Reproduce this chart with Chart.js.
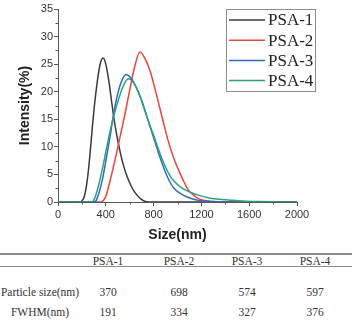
<!DOCTYPE html>
<html>
<head>
<meta charset="utf-8">
<script src="https://cdn.jsdelivr.net/npm/chart.js@4.4.1/dist/chart.umd.min.js"></script>
<style>
  body { margin: 0; background: #fff; }
  #wrap { position: relative; width: 352px; height: 335px; overflow: hidden; }
  #chart { position: absolute; left: 0; top: 0; }
  .rule { position: absolute; left: 0; width: 352px; background: #8a8a8a; }
  .cell { position: absolute; font-family: "Liberation Serif", serif; font-size: 11.5px; color: #333;
          transform: translate(-50%, -50%); white-space: nowrap; }
</style>
</head>
<body>
<div id="wrap">
  <canvas id="chart" width="352" height="245" style="width:352px;height:245px"></canvas>
  <div class="rule" style="top:253px;height:2px"></div>
  <div class="rule" style="top:266px;height:1px"></div>
  <div id="table"></div>
</div>
<script>
// size (nm) / intensity (%)
const psa1Size = [0, 190, 200, 220, 240, 255, 270, 290, 310, 335, 355, 378, 400, 425, 450, 475, 500, 525, 550, 575, 610, 645, 690, 730, 800, 2000];
const psa1Int  = [0, 0, 0.2, 1, 3.2, 5.8, 9.2, 14.2, 18.5, 22.8, 25.2, 26.1, 25, 22, 18, 14.2, 11.2, 8.6, 6.5, 4.8, 3, 1.7, 0.6, 0.1, 0, 0];

const psa2Size = [0, 360, 380, 400, 435, 477, 505, 535, 561, 600, 640, 686, 728, 770, 826, 880, 923, 980, 1021, 1060, 1090, 1160, 1216, 1300, 1400, 2000];
const psa2Int  = [0, 0, 0.3, 1, 3.8, 7.6, 10.4, 13.4, 16, 20.3, 24.4, 27.2, 26, 23.8, 19.3, 14.6, 11, 7.3, 5.2, 3.4, 2.2, 0.8, 0.3, 0.08, 0, 0];

const psa3Size = [0, 300, 320, 345, 371, 395, 421, 444, 460, 491, 530, 569, 610, 650, 690, 730, 770, 810, 850, 890, 930, 970, 1020, 1080, 1150, 1250, 1400, 2000];
const psa3Int  = [0, 0, 0.3, 1.8, 4, 6.8, 10, 13, 15.3, 18.8, 21.8, 23.1, 22.5, 21, 18.9, 16.4, 13.7, 11, 8.3, 5.9, 3.9, 2.5, 1.6, 0.9, 0.4, 0.12, 0, 0];

const psa4Size = [0, 280, 296, 320, 351, 380, 407, 435, 463, 505, 545, 588, 630, 672, 715, 760, 800, 840, 880, 923, 970, 1021, 1060, 1105, 1180, 1272, 1370, 1467, 1580, 1690, 1800, 2000];
const psa4Int  = [0, 0, 0.2, 1.5, 4, 6.9, 9.8, 12.7, 15.3, 18.5, 21, 22.35, 21.7, 20, 17.5, 14.4, 12.1, 9.6, 7.3, 5.3, 3.8, 2.8, 2.25, 1.8, 1.2, 0.7, 0.45, 0.3, 0.15, 0.07, 0.03, 0];

const names = ['PSA-1', 'PSA-2', 'PSA-3', 'PSA-4'];
const colors = ['#3a3a3a', '#e8453c', '#2f6cc0', '#2ea079'];

// table below the plot
const tableHead = ['PSA-1', 'PSA-2', 'PSA-3', 'PSA-4'];
const rowLabels = ['Particle size(nm)', 'FWHM(nm)'];
const particleSize = [370, 698, 574, 597];
const fwhm = [191, 334, 327, 376];

const colX = [40, 108, 179, 247, 315];
const rowY = [261, 292, 312];

let tbl = document.getElementById('table');
let put = (txt, x, y) => {
  let d = document.createElement('div');
  d.className = 'cell';
  d.style.left = x + 'px';
  d.style.top = y + 'px';
  d.textContent = txt;
  tbl.appendChild(d);
};
tableHead.forEach((h, i) => put(h, colX[i + 1], rowY[0]));
put(rowLabels[0], colX[0], rowY[1]);
put(rowLabels[1], colX[0], rowY[2]);
particleSize.forEach((v, i) => put(v, colX[i + 1], rowY[1]));
fwhm.forEach((v, i) => put(v, colX[i + 1], rowY[2]));

const pts = (xs, ys) => xs.map((x, i) => ({ x: x, y: ys[i] }));

// minor ticks between labelled ones
const minorTicks = {
  id: 'minorTicks',
  afterDraw(chart) {
    const { ctx, scales: { x, y } } = chart;
    ctx.save();
    ctx.strokeStyle = '#555';
    ctx.lineWidth = 1;
    ctx.beginPath();
    for (let v = 200; v < 2000; v += 400) {
      const px = Math.round(x.getPixelForValue(v)) + 0.5;
      ctx.moveTo(px, y.bottom);
      ctx.lineTo(px, y.bottom + 2.5);
    }
    for (let v = 2.5; v < 35; v += 5) {
      const py = Math.round(y.getPixelForValue(v)) + 0.5;
      ctx.moveTo(x.left, py);
      ctx.lineTo(x.left - 2.5, py);
    }
    ctx.stroke();
    ctx.restore();
  }
};

// framed legend in the upper right
const boxLegend = {
  id: 'boxLegend',
  afterDraw(chart) {
    const ctx = chart.ctx;
    ctx.save();
    ctx.strokeStyle = '#8c8c8c';
    ctx.lineWidth = 1;
    ctx.strokeRect(226.5, 9.5, 89, 82);
    ctx.font = '17px "Liberation Serif"';
    ctx.textBaseline = 'middle';
    chart.data.datasets.forEach((ds, i) => {
      const yy = 20 + i * 20.2;
      ctx.strokeStyle = ds.borderColor;
      ctx.lineWidth = 1.5;
      ctx.beginPath();
      ctx.moveTo(229, yy);
      ctx.lineTo(265, yy);
      ctx.stroke();
      ctx.fillStyle = '#222';
      ctx.fillText(ds.label, 268, yy + 1);
    });
    ctx.restore();
  }
};

const series = [pts(psa1Size, psa1Int), pts(psa2Size, psa2Int), pts(psa3Size, psa3Int), pts(psa4Size, psa4Int)];

new Chart(document.getElementById('chart'), {
  type: 'line',
  data: {
    datasets: series.map((d, i) => ({
      label: names[i],
      data: d,
      borderColor: colors[i],
      borderWidth: 1.5,
      pointRadius: 0,
      fill: false,
      cubicInterpolationMode: 'monotone',
      order: 4 - i,
    })),
  },
  options: {
    responsive: false,
    animation: false,
    layout: { padding: { top: 9, right: 55, bottom: 0, left: 0 } },
    plugins: { legend: { display: false }, tooltip: { enabled: false } },
    scales: {
      x: {
        type: 'linear',
        min: 0,
        max: 2000,
        afterFit: (s) => { s.height = 43; },
        grid: { drawOnChartArea: false, tickLength: 4, color: '#555' },
        border: { color: '#555', width: 1 },
        ticks: { stepSize: 400, padding: 2, color: '#333', callback: (v) => String(v),
                 font: { family: 'Liberation Sans', size: 11 } },
        title: { display: true, text: 'Size(nm)', color: '#222', padding: { top: 0, bottom: 1 },
                 font: { family: 'Liberation Sans', size: 14, weight: 'bold' } },
      },
      y: {
        min: 0,
        max: 35,
        afterFit: (s) => { s.width = 58; },
        grid: { drawOnChartArea: false, tickLength: 4, color: '#555' },
        border: { color: '#555', width: 1 },
        ticks: { stepSize: 5, padding: 1, color: '#333', callback: (v) => String(v),
                 font: { family: 'Liberation Sans', size: 11 } },
        title: { display: true, text: 'Intensity(%)', color: '#222', padding: { top: 17, bottom: 0 },
                 font: { family: 'Liberation Sans', size: 14, weight: 'bold' } },
      },
    },
  },
  plugins: [minorTicks, boxLegend],
});
</script>
</body>
</html>
